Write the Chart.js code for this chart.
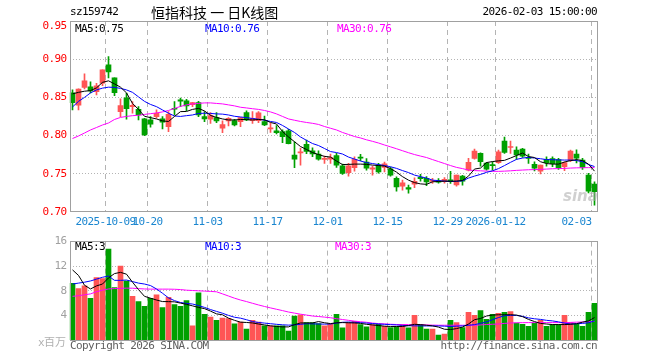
<!DOCTYPE html>
<html><head><meta charset="utf-8">
<script src="https://cdn.jsdelivr.net/npm/chart.js@4.4.1/dist/chart.umd.min.js"></script>
<style>
html,body{margin:0;padding:0;background:#fff;}
#wrap{position:relative;width:660px;height:360px;overflow:hidden;background:#fff;}
canvas{position:absolute;left:0;}
.t{position:absolute;white-space:pre;font-family:"DejaVu Sans Mono",monospace;font-size:11px;line-height:12px;letter-spacing:-0.6px;}
</style></head><body>
<div id="wrap">
<canvas id="k" width="660" height="232" style="top:0"></canvas>
<canvas id="v" width="660" height="128" style="top:232px"></canvas>
<div class="t" style="left:70px;top:6px;color:#000;">sz159742</div>
<div class="t" style="left:151px;top:3px;font-family:'Noto Sans CJK SC',sans-serif;font-size:14px;line-height:18px;letter-spacing:0;color:#000;">恒指科技 一 日K线图</div>
<div class="t" style="right:63px;top:6px;color:#000;">2026-02-03 15:00:00</div>
<div class="t" style="left:75px;top:23px;color:#000;">MA5:0.75</div>
<div class="t" style="left:205px;top:23px;color:#0000ff;">MA10:0.76</div>
<div class="t" style="left:337px;top:23px;color:#ff00ff;">MA30:0.76</div>
<div class="t" style="left:75px;top:241px;color:#000;">MA5:3</div>
<div class="t" style="left:205px;top:241px;color:#0000ff;">MA10:3</div>
<div class="t" style="left:335px;top:241px;color:#ff00ff;">MA30:3</div>
<div class="t" style="right:594px;top:335px;color:#b0b0b0;">x<span style="font-family:'Noto Sans CJK SC';font-size:11px;letter-spacing:0">百万</span></div>
<div class="t" style="left:70px;top:340px;color:#606060;">Copyright 2026 SINA.COM</div>
<div class="t" style="right:63px;top:340px;color:#606060;">http://finance.sina.com.cn</div>
<div class="t" style="left:563px;top:187px;font-family:'DejaVu Sans',sans-serif;font-size:15px;line-height:18px;font-weight:bold;font-style:italic;letter-spacing:0;color:rgba(170,170,170,0.55);">sina</div>
</div>
<script>
const dates = [
'2025-09-23','2025-09-24','2025-09-25','2025-09-26','2025-09-29','2025-09-30',
'2025-10-09','2025-10-10','2025-10-13','2025-10-14','2025-10-15','2025-10-16','2025-10-17','2025-10-20','2025-10-21','2025-10-22','2025-10-23','2025-10-24','2025-10-27','2025-10-28','2025-10-29','2025-10-30','2025-10-31',
'2025-11-03','2025-11-04','2025-11-05','2025-11-06','2025-11-07','2025-11-10','2025-11-11','2025-11-12','2025-11-13','2025-11-14','2025-11-17','2025-11-18','2025-11-19','2025-11-20','2025-11-21','2025-11-24','2025-11-25','2025-11-26','2025-11-27','2025-11-28',
'2025-12-01','2025-12-02','2025-12-03','2025-12-04','2025-12-05','2025-12-08','2025-12-09','2025-12-10','2025-12-11','2025-12-12','2025-12-15','2025-12-16','2025-12-17','2025-12-18','2025-12-19','2025-12-22','2025-12-23','2025-12-24','2025-12-25','2025-12-26','2025-12-29','2025-12-30','2025-12-31',
'2026-01-05','2026-01-06','2026-01-07','2026-01-08','2026-01-09','2026-01-12','2026-01-13','2026-01-14','2026-01-15','2026-01-16','2026-01-19','2026-01-20','2026-01-21','2026-01-22','2026-01-23','2026-01-26','2026-01-27','2026-01-28','2026-01-29','2026-01-30',
'2026-02-02','2026-02-03'];

const xTickDates = ['2025-10-09','2025-10-20','2025-11-03','2025-11-17','2025-12-01','2025-12-15','2025-12-29','2026-01-12','2026-02-03'];
const xTickText  = ['2025-10-09','10-20','11-03','11-17','12-01','12-15','12-29','2026-01-12','02-03     '];
const priceTicks = [0.70,0.75,0.80,0.85,0.90,0.95];
const volTicks = [4,8,12,16];

const opens = [0.8559,0.8398,0.8629,0.8638,0.8576,0.8686,0.8926,0.8756,0.8314,0.8493,
0.8379,0.8345,0.8218,0.8205,0.8248,0.8218,0.8117,0.8358,0.8467,0.8454,
0.8406,0.8432,0.8248,0.8214,0.8235,0.8096,0.8192,0.8196,0.8182,0.8301,
0.8196,0.8196,0.8182,0.8087,0.8064,0.8051,0.8064,0.7746,0.7772,0.7886,
0.7801,0.7759,0.7689,0.7693,0.7739,0.7605,0.7516,0.7579,0.7715,0.7654,
0.7562,0.7614,0.7584,0.7566,0.7440,0.7339,0.7319,0.7365,0.7453,0.7440,
0.7400,0.7408,0.7398,0.7421,0.7356,0.7470,0.7549,0.7702,0.7768,0.7640,
0.7618,0.7647,0.7929,0.7844,0.7811,0.7824,0.7715,0.7625,0.7535,0.7690,
0.7700,0.7686,0.7592,0.7671,0.7759,0.7680,0.7483,0.7365];
const highs = [0.8598,0.8612,0.8808,0.8703,0.8684,0.8861,0.9035,0.8756,0.8480,0.8555,
0.8445,0.8379,0.8227,0.8248,0.8336,0.8248,0.8314,0.8445,0.8490,0.8476,
0.8437,0.8450,0.8314,0.8301,0.8301,0.8192,0.8235,0.8214,0.8240,0.8323,
0.8314,0.8314,0.8257,0.8161,0.8130,0.8074,0.8083,0.7920,0.7837,0.7942,
0.7841,0.7802,0.7732,0.7759,0.7768,0.7627,0.7637,0.7723,0.7755,0.7700,
0.7601,0.7637,0.7654,0.7588,0.7461,0.7417,0.7352,0.7448,0.7493,0.7463,
0.7440,0.7437,0.7450,0.7532,0.7483,0.7479,0.7702,0.7824,0.7776,0.7650,
0.7658,0.7811,0.7982,0.7929,0.7854,0.7833,0.7759,0.7658,0.7614,0.7723,
0.7723,0.7702,0.7658,0.7811,0.7815,0.7702,0.7505,0.7395];
const lows = [0.8336,0.8336,0.8612,0.8559,0.8533,0.8655,0.8756,0.8524,0.8248,0.8214,
0.8293,0.8205,0.7999,0.8109,0.8227,0.8087,0.8051,0.8270,0.8379,0.8327,
0.8379,0.8248,0.8182,0.8161,0.8169,0.8038,0.8126,0.8126,0.8117,0.8196,
0.8161,0.8169,0.8130,0.8043,0.8021,0.7907,0.7890,0.7581,0.7614,0.7765,
0.7723,0.7680,0.7637,0.7637,0.7584,0.7492,0.7470,0.7535,0.7671,0.7549,
0.7483,0.7509,0.7526,0.7470,0.7273,0.7286,0.7247,0.7319,0.7404,0.7343,
0.7374,0.7378,0.7378,0.7374,0.7339,0.7352,0.7539,0.7693,0.7601,0.7549,
0.7549,0.7637,0.7768,0.7768,0.7689,0.7715,0.7637,0.7539,0.7499,0.7601,
0.7592,0.7558,0.7542,0.7658,0.7644,0.7558,0.7251,0.7089];
const closes = [0.8432,0.8609,0.8717,0.8585,0.8651,0.8861,0.8835,0.8563,0.8392,0.8353,
0.8395,0.8270,0.8008,0.8148,0.8293,0.8175,0.8280,0.8345,0.8450,0.8389,
0.8432,0.8270,0.8218,0.8261,0.8192,0.8143,0.8227,0.8139,0.8235,0.8205,
0.8227,0.8297,0.8139,0.8096,0.8038,0.7986,0.7896,0.7693,0.7789,0.7794,
0.7759,0.7693,0.7702,0.7713,0.7614,0.7505,0.7605,0.7690,0.7706,0.7575,
0.7579,0.7526,0.7631,0.7483,0.7329,0.7382,0.7299,0.7400,0.7437,0.7395,
0.7411,0.7391,0.7427,0.7400,0.7483,0.7404,0.7650,0.7798,0.7658,0.7559,
0.7608,0.7789,0.7781,0.7857,0.7746,0.7732,0.7702,0.7575,0.7614,0.7647,
0.7634,0.7579,0.7647,0.7798,0.7703,0.7585,0.7273,0.7266];

const ma5 = [0.8546,0.8566,0.8581,0.8589,0.8625,0.8697,0.8717,0.8677,0.8634,0.8559,
0.8421,0.8343,0.8253,0.8235,0.8218,0.8192,0.8185,0.8251,0.8314,0.8316,
0.8343,0.8356,0.8323,0.8264,0.8238,0.8218,0.8205,0.8205,0.8211,0.8209,
0.8205,0.8211,0.8207,0.8172,0.8152,0.8054,0.7982,0.7920,0.7857,0.7818,
0.7778,0.7752,0.7728,0.7719,0.7667,0.7621,0.7623,0.7627,0.7627,0.7623,
0.7614,0.7608,0.7601,0.7568,0.7522,0.7463,0.7417,0.7385,0.7368,0.7362,
0.7395,0.7400,0.7404,0.7402,0.7404,0.7413,0.7470,0.7562,0.7575,0.7647,
0.7660,0.7669,0.7676,0.7706,0.7739,0.7772,0.7726,0.7713,0.7658,0.7634,
0.7627,0.7627,0.7654,0.7673,0.7686,0.7673,0.7627,0.7535];
const ma10 = [0.8375,0.8448,0.8500,0.8559,0.8598,0.8621,0.8634,0.8631,0.8618,0.8598,
0.8566,0.8507,0.8448,0.8408,0.8379,0.8336,0.8293,0.8257,0.8251,0.8261,
0.8270,0.8290,0.8293,0.8290,0.8284,0.8281,0.8270,0.8253,0.8244,0.8235,
0.8224,0.8214,0.8202,0.8185,0.8172,0.8133,0.8087,0.8041,0.7982,0.7938,
0.7896,0.7870,0.7831,0.7791,0.7778,0.7759,0.7719,0.7693,0.7667,0.7647,
0.7634,0.7621,0.7608,0.7592,0.7571,0.7542,0.7516,0.7483,0.7463,0.7444,
0.7417,0.7411,0.7404,0.7400,0.7402,0.7408,0.7444,0.7470,0.7492,0.7519,
0.7539,0.7568,0.7608,0.7650,0.7689,0.7706,0.7715,0.7706,0.7697,0.7686,
0.7684,0.7682,0.7680,0.7680,0.7673,0.7660,0.7621,0.7595];
const ma30 = [0.7962,0.7995,0.8034,0.8074,0.8106,0.8139,0.8165,0.8211,0.8238,0.8251,
0.8261,0.8266,0.8277,0.8287,0.8297,0.8310,0.8329,0.8356,0.8382,0.8402,
0.8415,0.8421,0.8428,0.8428,0.8421,0.8415,0.8402,0.8389,0.8371,0.8362,
0.8352,0.8343,0.8329,0.8310,0.8284,0.8251,0.8218,0.8201,0.8185,0.8172,
0.8161,0.8146,0.8119,0.8096,0.8074,0.8041,0.8015,0.7988,0.7969,0.7945,
0.7925,0.7903,0.7877,0.7853,0.7828,0.7802,0.7776,0.7752,0.7732,0.7713,
0.7686,0.7660,0.7634,0.7608,0.7584,0.7568,0.7549,0.7542,0.7539,0.7535,
0.7532,0.7532,0.7535,0.7539,0.7545,0.7549,0.7553,0.7555,0.7558,0.7562,
0.7566,0.7568,0.7571,0.7575,0.7578,0.7579,0.7581,0.7581];

const volumes = [9.23,8.37,8.80,6.77,10.13,9.97,14.77,8.53,12.00,9.60,
7.09,6.24,5.49,6.77,7.36,5.28,6.93,5.76,5.49,6.40,
2.29,7.68,4.16,3.73,3.20,3.57,3.47,2.61,2.93,1.76,
3.20,2.93,2.29,2.29,2.29,2.29,1.44,3.89,4.11,2.83,
2.83,2.67,2.29,2.56,4.16,1.97,2.83,3.04,2.51,2.13,
2.51,2.56,2.24,2.03,2.13,2.51,1.97,4.00,2.51,1.76,
1.76,0.80,0.96,3.20,2.83,2.03,4.48,4.00,4.80,3.36,
4.16,4.32,4.48,4.64,2.77,2.56,2.24,2.77,3.20,2.24,
2.51,2.51,4.00,2.83,2.56,2.24,4.48,5.97];
const vma5 = [11.4,10.5,8.9,8.3,8.8,9.1,10.1,10.8,11.0,10.7,
9.4,8.2,7.1,6.8,6.5,6.25,6.24,6.2,6.0,5.8,
5.55,5.3,5.1,4.7,4.25,4.1,3.55,3.2,2.9,2.85,
2.77,2.6,2.45,2.3,2.2,2.13,2.13,2.5,2.77,2.77,
2.77,3.0,2.8,2.67,2.8,2.83,2.8,2.77,2.7,2.55,
2.45,2.35,2.25,2.2,2.2,2.2,2.35,2.55,2.5,2.4,
2.3,2.1,1.75,1.7,1.85,2.1,2.6,3.3,3.5,3.9,
4.05,4.1,4.11,4.11,4.05,3.8,3.35,3.0,2.7,2.6,
2.51,2.51,2.51,2.55,2.65,2.9,3.1,3.65];
const vma10 = [9.1,9.25,9.4,9.6,9.9,10.2,10.4,9.7,9.7,9.75,
9.5,9.25,9.1,8.85,8.3,7.6,6.85,6.4,6.1,5.95,
5.85,5.6,5.3,4.95,4.65,4.35,4.0,3.7,3.55,3.3,
3.0,2.85,2.75,2.65,2.55,2.47,2.42,2.45,2.55,2.65,
2.62,2.6,2.58,2.6,2.75,2.88,2.92,2.88,2.82,2.75,
2.68,2.6,2.55,2.5,2.45,2.38,2.32,2.3,2.29,2.29,
2.29,2.29,2.25,2.2,2.25,2.29,2.4,2.5,2.7,2.93,
3.3,3.65,3.95,4.0,4.0,3.85,3.6,3.45,3.35,3.2,
3.1,2.95,2.75,2.6,2.65,2.7,2.8,3.1];
const vma30 = [7.1,7.2,7.35,7.5,7.85,8.1,8.3,8.37,8.4,8.43,
8.42,8.35,8.3,8.27,8.27,8.27,8.27,8.25,8.2,8.1,
8.05,8.0,7.95,7.9,7.84,7.5,7.15,6.8,6.5,6.25,
5.97,5.7,5.45,5.22,5.0,4.78,4.55,4.37,4.2,4.05,
3.9,3.82,3.72,3.62,3.47,3.33,3.2,3.07,2.97,2.88,
2.75,2.67,2.62,2.56,2.52,2.51,2.51,2.51,2.5,2.45,
2.42,2.4,2.4,2.4,2.4,2.4,2.4,2.4,2.45,2.52,
2.56,2.6,2.7,2.77,2.8,2.82,2.83,2.83,2.83,2.83,
2.83,2.83,2.83,2.86,2.9,2.93,2.97,3.02];

const UP = '#ff5555', DOWN = '#00a000';
const candleColors = opens.map((o, i) => closes[i] >= o ? UP : DOWN);
const gridIdx = xTickDates.map(d => dates.indexOf(d));
const MONO = '"DejaVu Sans Mono", monospace';
const GRID = '#b4b4b4';
const CLEAR = 'rgba(0,0,0,0)';

const framePlugin = {
  id: 'frame',
  beforeDraw(chart) { chart.ctx.letterSpacing = '-0.6px'; },
  afterDraw(chart, args, opts) {
    const a = chart.chartArea, c = chart.ctx;
    c.save();
    c.letterSpacing = '0px';
    c.strokeStyle = '#a0a0a0';
    c.lineWidth = 1;
    c.setLineDash([]);
    const x0 = Math.round(a.left) + 0.5, x1 = Math.floor(a.right) + 0.5;
    const y0 = Math.floor(a.top) + 0.5, y1 = Math.floor(a.bottom) + opts.bottomAdj;
    c.strokeRect(x0, y0, x1 - x0, y1 - y0);
    c.restore();
  }
};

function lineDs(data, color) {
  return { type: 'line', data, borderColor: color, backgroundColor: color, borderWidth: 1,
           pointRadius: 0, tension: 0, order: 0 };
}

function xAxis(showLabels) {
  return {
    offset: true,
    grid: { offset: true, drawTicks: false, lineWidth: 1,
            color: ctx => gridIdx.includes(ctx.index) ? GRID : CLEAR },
    border: { display: false, dash: [5, 4] },
    ticks: { display: showLabels, autoSkip: false, maxRotation: 0, minRotation: 0,
             labelOffset: -3, padding: 4, color: '#1a86d0',
             font: { family: MONO, size: 11 },
             callback: (v, i) => { const k = xTickDates.indexOf(dates[i]); return k >= 0 ? xTickText[k] : ''; } },
    afterFit: s => { s.height = 20; s.paddingLeft = 0; s.paddingRight = 0; }
  };
}

Chart.defaults.animation = false;

new Chart(document.getElementById('k'), {
  type: 'bar',
  data: {
    labels: dates,
    datasets: [
      lineDs(ma5, '#000000'),
      lineDs(ma10, '#0000ff'),
      lineDs(ma30, '#ff00ff'),
      { label: 'body', data: opens.map((o, i) => [o, closes[i]]), backgroundColor: candleColors,
        barThickness: 5, minBarLength: 1, grouped: false, borderWidth: 0, order: 1 },
      { label: 'wick', data: lows.map((l, i) => [l, highs[i]]), backgroundColor: candleColors,
        barThickness: 1, grouped: false, borderWidth: 0, order: 2 }
    ]
  },
  options: {
    responsive: false, devicePixelRatio: 1, animation: false,
    layout: { padding: { top: 21, right: 62.5, left: 0, bottom: 0 } },
    plugins: { legend: { display: false }, tooltip: { enabled: false }, frame: { bottomAdj: -0.5 } },
    scales: {
      x: xAxis(true),
      y: {
        min: 0.70, max: 0.95,
        afterBuildTicks: s => { s.ticks = priceTicks.map(v => ({ value: v })); },
        grid: { drawTicks: false, lineWidth: 1,
                color: ctx => (ctx.tick && ctx.tick.value > 0.701 && ctx.tick.value < 0.949) ? GRID : CLEAR },
        border: { display: false, dash: [1, 2] },
        ticks: { color: '#ff0000', padding: 3, font: { family: MONO, size: 11, lineHeight: 1.0 },
                 callback: v => v > 0.949 ? ['', Number(v).toFixed(2)] : Number(v).toFixed(2) },
        afterFit: s => { s.width = 69.5; }
      }
    }
  },
  plugins: [framePlugin]
});

new Chart(document.getElementById('v'), {
  type: 'bar',
  data: {
    labels: dates,
    datasets: [
      lineDs(vma5, '#000000'),
      lineDs(vma10, '#0000ff'),
      lineDs(vma30, '#ff00ff'),
      { label: 'vol', data: volumes, backgroundColor: candleColors, barThickness: 5,
        grouped: false, borderWidth: 0, order: 1 }
    ]
  },
  options: {
    responsive: false, devicePixelRatio: 1, animation: false,
    layout: { padding: { top: 8, right: 62.5, left: 0, bottom: 0 } },
    plugins: { legend: { display: false }, tooltip: { enabled: false }, frame: { bottomAdj: 0.5 } },
    scales: {
      x: xAxis(false),
      y: {
        min: 0, max: 16,
        afterBuildTicks: s => { s.ticks = volTicks.map(v => ({ value: v })); },
        grid: { drawTicks: false, lineWidth: 1,
                color: ctx => (ctx.tick && ctx.tick.value > 0 && ctx.tick.value < 16) ? GRID : CLEAR },
        border: { display: false, dash: [1, 2] },
        ticks: { color: '#a0a0a0', padding: 3, font: { family: MONO, size: 11 },
                 callback: v => String(v) },
        afterFit: s => { s.width = 69.5; }
      }
    }
  },
  plugins: [framePlugin]
});
</script>
</body></html>
